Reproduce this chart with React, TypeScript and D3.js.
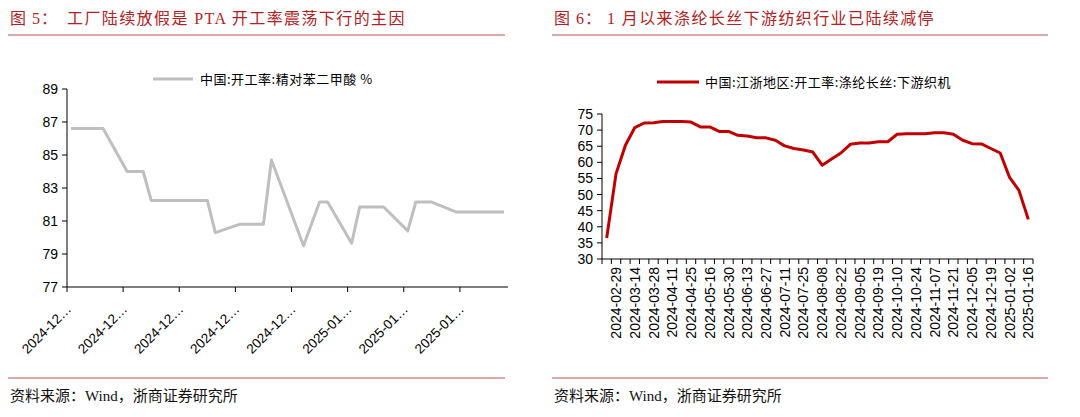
import * as d3 from "d3";
import React, { useRef, useEffect } from "react";

// 图5: PTA 开工率, daily categories from leftStart, null = no print that day
const leftStart = "2024-12-02";
const leftValues = [
    86.6, null, null, null, 86.6, null, null, 84.0, null, 84.0,
    82.25, null, null, null, null, null, null, 82.25, 80.3, null,
    null, 80.8, null, null, 80.8, 84.7, null, null, null, 79.5,
    null, 82.15, 82.15, null, null, 79.65, 81.85, null, null, 81.85,
    null, null, 80.4, 82.15, null, 82.15, null, null, 81.55, null,
    null, null, null, null, 81.55,
];
const leftYTicks = [77, 79, 81, 83, 85, 87, 89];
const leftLabelEvery = 7;

// 图6: 江浙织机开工率, weekly
const rightCategories = [
    "2024-02-22", "2024-02-29", "2024-03-07", "2024-03-14", "2024-03-21",
    "2024-03-28", "2024-04-04", "2024-04-11", "2024-04-18", "2024-04-25",
    "2024-05-09", "2024-05-16", "2024-05-23", "2024-05-30", "2024-06-06",
    "2024-06-13", "2024-06-20", "2024-06-27", "2024-07-04", "2024-07-11",
    "2024-07-18", "2024-07-25", "2024-08-01", "2024-08-08", "2024-08-15",
    "2024-08-22", "2024-08-29", "2024-09-05", "2024-09-12", "2024-09-19",
    "2024-09-26", "2024-10-10", "2024-10-17", "2024-10-24", "2024-10-31",
    "2024-11-07", "2024-11-14", "2024-11-21", "2024-11-28", "2024-12-05",
    "2024-12-12", "2024-12-19", "2024-12-26", "2025-01-02", "2025-01-09",
    "2025-01-16",
];
const rightValues = [
    36.5, 56.5, 65.3, 70.8, 72.2, 72.3, 72.7, 72.7, 72.7, 72.5,
    71.0, 71.0, 69.6, 69.6, 68.4, 68.2, 67.6, 67.6, 66.85, 65.1,
    64.3, 63.85, 63.2, 59.1, 61.0, 62.9, 65.6, 66.0, 66.0, 66.4,
    66.4, 68.7, 68.9, 68.9, 68.9, 69.2, 69.2, 68.7, 66.85, 65.8,
    65.7, 64.3, 62.9, 55.3, 51.3, 42.3,
];
const rightYTicks = [30, 35, 40, 45, 50, 55, 60, 65, 70, 75];

const leftTitle = ["图 5：", "工厂陆续放假是 PTA 开工率震荡下行的主因"];
const rightTitle = ["图 6：", "1 月以来涤纶长丝下游纺织行业已陆续减停"];
const leftLegend = "中国:开工率:精对苯二甲酸 %";
const rightLegend = "中国:江浙地区:开工率:涤纶长丝:下游织机";
const source = "资料来源：Wind，浙商证券研究所";

const serif = "'Liberation Serif', 'Noto Sans CJK SC', serif";
const sans = "'Liberation Sans', Arial, sans-serif";
const cjk = "'Noto Sans CJK SC', sans-serif";

function App() {
    const ref = useRef(null);

    useEffect(() => {
        const svg = d3.select(ref.current);
        svg.selectAll("*").remove();
        svg.append("rect").attr("width", 1080).attr("height", 417).attr("fill", "#fff");

        // headers + footers
        const frame = (x0, x1, title) => {
            svg.append("text")
                .attr("x", x0 + 2)
                .attr("y", 24)
                .attr("fill", "#B22222")
                .style("font-family", serif)
                .style("font-size", "16px")
                .style("letter-spacing", "1px")
                .text(title[0]);
            svg.append("text")
                .attr("x", x0 + (x0 < 100 ? 59 : 55))
                .attr("y", 24)
                .attr("fill", "#B22222")
                .style("font-family", serif)
                .style("font-size", "16px")
                .style("letter-spacing", "1.4px")
                .text(title[1]);
            svg.append("line")
                .attr("x1", x0).attr("x2", x1)
                .attr("y1", 35).attr("y2", 35)
                .attr("stroke", "#C0504D").attr("stroke-width", 1.2);
            svg.append("line")
                .attr("x1", x0).attr("x2", x1)
                .attr("y1", 378).attr("y2", 378)
                .attr("stroke", "#C0504D").attr("stroke-width", 1.2);
            svg.append("text")
                .attr("x", x0 + 2)
                .attr("y", 401)
                .attr("fill", "#111")
                .style("font-family", serif)
                .style("font-size", "15px")
                .text(source);
        };
        frame(8, 505, leftTitle);
        frame(552, 1048, rightTitle);

        // ---- left chart
        const start = d3.timeParse("%Y-%m-%d")(leftStart);
        const fmt = d3.timeFormat("%Y-%m-%d");
        const leftCats = leftValues.map((v, i) => fmt(d3.timeDay.offset(start, i)));
        const lx = d3.scaleBand().domain(leftCats).range([67, 508]);
        const ly = d3.scaleLinear().domain([77, 89]).range([287, 89]);
        const lg = svg.append("g");

        lg.append("line").attr("x1", 67).attr("x2", 67).attr("y1", 89).attr("y2", 287)
            .attr("stroke", "#000");
        lg.selectAll(".yt").data(leftYTicks).join("line")
            .attr("x1", 62).attr("x2", 67)
            .attr("y1", (d) => ly(d)).attr("y2", (d) => ly(d))
            .attr("stroke", "#000");
        lg.selectAll(".yl").data(leftYTicks).join("text")
            .attr("x", 58).attr("y", (d) => ly(d)).attr("dy", "0.36em")
            .attr("text-anchor", "end")
            .style("font-family", sans).style("font-size", "14px")
            .text((d) => d);

        lg.append("line").attr("x1", 67).attr("x2", 508).attr("y1", 287).attr("y2", 287)
            .attr("stroke", "#000");
        const labelCats = leftCats.filter((c, i) => i % leftLabelEvery === 0);
        lg.selectAll(".xt").data(labelCats).join("line")
            .attr("x1", (d) => lx(d)).attr("x2", (d) => lx(d))
            .attr("y1", 287).attr("y2", 292)
            .attr("stroke", "#000");
        lg.selectAll(".xl").data(labelCats).join("text")
            .attr("transform", (d) => `translate(${lx(d) + lx.bandwidth() / 2 + 1},310) rotate(-45)`)
            .attr("text-anchor", "end")
            .style("font-family", sans).style("font-size", "13.5px")
            .text((d) => d.slice(0, 7) + "…");

        const leftPts = leftValues
            .map((v, i) => ({ c: leftCats[i], v }))
            .filter((d) => d.v !== null);
        const leftLine = d3.line()
            .x((d) => lx(d.c) + lx.bandwidth() / 2)
            .y((d) => ly(d.v));
        lg.append("path").datum(leftPts)
            .attr("d", leftLine)
            .attr("fill", "none")
            .attr("stroke", "#BFBFBF")
            .attr("stroke-width", 3)
            .attr("stroke-linejoin", "round");

        lg.append("line").attr("x1", 153).attr("x2", 193).attr("y1", 79).attr("y2", 79)
            .attr("stroke", "#BFBFBF").attr("stroke-width", 3);
        lg.append("text").attr("x", 200).attr("y", 79).attr("dy", "0.36em")
            .style("font-family", cjk).style("font-size", "13px")
            .style("letter-spacing", "0.5px")
            .text(leftLegend);

        // ---- right chart
        const rx = d3.scaleBand().domain(rightCategories).range([602, 1033]);
        const ry = d3.scaleLinear().domain([30, 75]).range([259, 114]);
        const rg = svg.append("g");

        rg.append("line").attr("x1", 602).attr("x2", 602).attr("y1", 114).attr("y2", 259)
            .attr("stroke", "#000");
        rg.selectAll(".yt").data(rightYTicks).join("line")
            .attr("x1", 597).attr("x2", 602)
            .attr("y1", (d) => ry(d)).attr("y2", (d) => ry(d))
            .attr("stroke", "#000");
        rg.selectAll(".yl").data(rightYTicks).join("text")
            .attr("x", 593).attr("y", (d) => ry(d)).attr("dy", "0.36em")
            .attr("text-anchor", "end")
            .style("font-family", sans).style("font-size", "14px")
            .text((d) => d);

        rg.append("line").attr("x1", 602).attr("x2", 1033).attr("y1", 259).attr("y2", 259)
            .attr("stroke", "#000");
        const edges = rightCategories.map((c) => rx(c)).concat([1033]);
        rg.selectAll(".xt").data(edges).join("line")
            .attr("x1", (d) => d).attr("x2", (d) => d)
            .attr("y1", 259).attr("y2", 264)
            .attr("stroke", "#000");
        rg.selectAll(".xl").data(rightCategories.filter((c, i) => i % 2 === 1)).join("text")
            .attr("transform", (d) => `translate(${rx(d) + rx.bandwidth() / 2},267) rotate(-90)`)
            .attr("dy", "0.36em")
            .attr("text-anchor", "end")
            .style("font-family", sans).style("font-size", "14px")
            .text((d) => d);

        const rightLine = d3.line()
            .x((d, i) => rx(rightCategories[i]) + rx.bandwidth() / 2)
            .y((d) => ry(d));
        rg.append("path").datum(rightValues)
            .attr("d", rightLine)
            .attr("fill", "none")
            .attr("stroke", "#C00000")
            .attr("stroke-width", 3)
            .attr("stroke-linejoin", "round");

        rg.append("line").attr("x1", 657).attr("x2", 699).attr("y1", 82).attr("y2", 82)
            .attr("stroke", "#C00000").attr("stroke-width", 3);
        rg.append("text").attr("x", 705).attr("y", 82).attr("dy", "0.36em")
            .style("font-family", cjk).style("font-size", "13px")
            .style("letter-spacing", "0.5px")
            .text(rightLegend);
    }, []);

    return (
        <div style={{ position: "absolute", left: 0, top: 0 }}>
            <svg ref={ref} width={1080} height={417} style={{ display: "block" }}></svg>
        </div>
    );
}

export default App;
